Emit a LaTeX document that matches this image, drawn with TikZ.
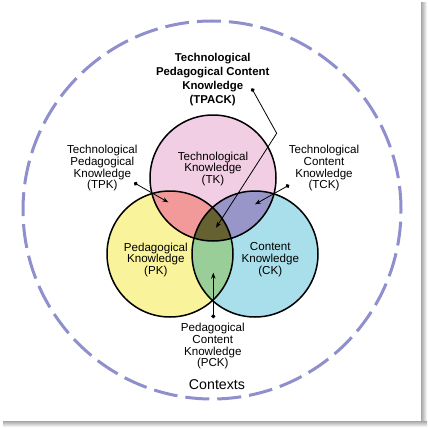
\documentclass[tikz,border=0pt]{standalone}
\usepackage{fontspec}
\setmainfont{Liberation Sans}
\usetikzlibrary{arrows.meta}
\definecolor{tkpink}{RGB}{241,206,227}
\definecolor{pkyellow}{RGB}{249,243,155}
\definecolor{ckblue}{RGB}{168,223,234}
\definecolor{tpkred}{RGB}{242,154,154}
\definecolor{tckpurple}{RGB}{152,149,200}
\definecolor{pckgreen}{RGB}{153,206,153}
\definecolor{tpackolive}{RGB}{102,97,48}
\definecolor{ctxlilac}{RGB}{143,143,206}
\begin{document}
\begin{tikzpicture}[x=1pt,y=-1pt,
    set/.style={circle,minimum size=126pt,inner sep=0pt},
    ring/.style={draw=black,line width=1.5pt},
    label text/.style={align=center,font=\fontsize{11.6}{11.6}\selectfont},
    pointer/.style={line width=0.8pt,{Circle[length=4pt]}-{Stealth[length=6pt,width=4.5pt]}}]
    \useasboundingbox (0,0) rectangle (428,428);
    % frame with shadow
    \shade[left color=gray!70,right color=white] (421,3) rectangle (427,427);
    \shade[top color=gray!70,bottom color=white] (3,421) rectangle (427,427);
    \fill[white] (0,0) rectangle (421,421);
    % contexts
    \draw[ctxlilac,line width=3pt,dash pattern=on 24pt off 8pt] (212,210) circle[radius=189pt];

    \node[set,fill=tkpink] at (213,178) (tk) {};
    \node[set,fill=pkyellow] at (170,254) (pk) {};
    \node[set,fill=ckblue] at (255,254) (ck) {};

    % overlaps
    \begin{scope}
        \clip (tk.center) circle[radius=63pt];
        \fill[tpkred] (pk.center) circle[radius=63pt];
        \fill[tckpurple] (ck.center) circle[radius=63pt];
    \end{scope}
    \begin{scope}
        \clip (pk.center) circle[radius=63pt];
        \fill[pckgreen] (ck.center) circle[radius=63pt];
        \clip (tk.center) circle[radius=63pt];
        \fill[tpackolive] (ck.center) circle[radius=63pt];
    \end{scope}
    \draw[ring] (tk.center) circle[radius=63pt];
    \draw[ring] (pk.center) circle[radius=63pt];
    \draw[ring] (ck.center) circle[radius=63pt];

    \node[label text] at (213,168.8) (tktext) {Technological\\Knowledge\\(TK)};
    \node[label text] at (155.8,259.7) (pktext) {Pedagogical\\Knowledge\\(PK)};
    \node[label text] at (270.3,259.7) (cktext) {Content\\Knowledge\\(CK)};
    \node[label text] at (102.3,168.3) (tpk) {Technological\\Pedagogical\\Knowledge\\(TPK)};
    \node[label text] at (324,168.3) (tck) {Technological\\Content\\Knowledge\\(TCK)};
    \node[label text] at (212.8,346.3) (pck) {Pedagogical\\Content\\Knowledge\\(PCK)};
    \node[align=center,font=\fontsize{11.4}{14}\selectfont\bfseries] at (212.7,79.3) (tpack)
        {Technological\\Pedagogical Content\\Knowledge\\(TPACK)};
    \node[font=\fontsize{14.2}{16}\selectfont] at (217,384.3) (contexts) {Contexts};

    \coordinate (tpackdot) at (251.7,88.3);
    \coordinate (tpackbend) at (276.7,133.3);
    \coordinate (tpacktip) at (216,227.7);
    \coordinate (tpkdot) at (134,182.7);
    \coordinate (tpktip) at (168.3,202.3);
    \coordinate (tckdot) at (289.3,185);
    \coordinate (tcktip) at (255,204.3);
    \coordinate (pckdot) at (213.3,318.3);
    \coordinate (pcktip) at (213.3,272.7);

    \draw[pointer] (tpackdot) -- (tpackbend) -- (tpacktip);
    \draw[pointer] (tpkdot) -- (tpktip);
    \draw[pointer] (tckdot) -- (tcktip);
    \draw[pointer] (pckdot) -- (pcktip);
\end{tikzpicture}
\end{document}
